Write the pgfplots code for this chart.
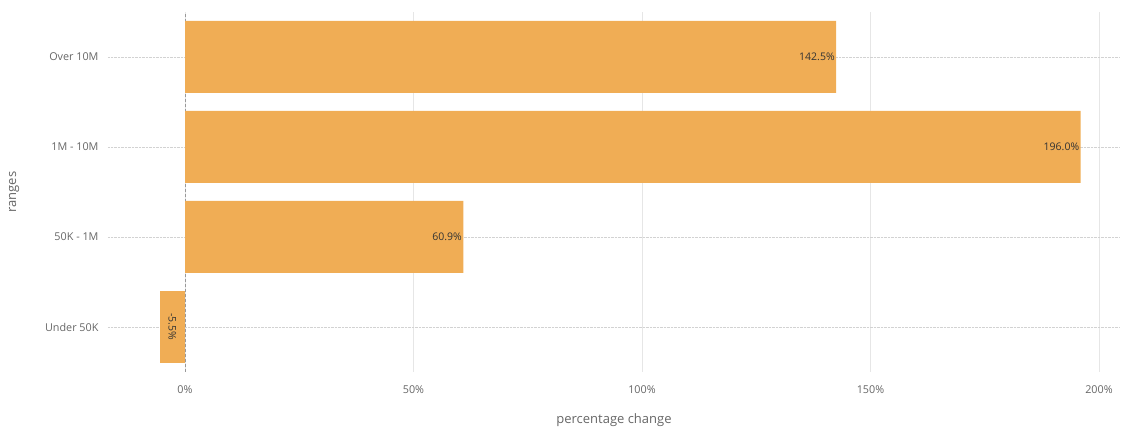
\documentclass[border=0pt]{standalone}
\usepackage{pgfplots}
\pgfplotsset{compat=1.18}
\usepackage{fontspec}
\setmainfont{Open Sans}
\definecolor{barc}{HTML}{F0AD55}
\definecolor{tickc}{HTML}{666666}
\definecolor{gridc}{HTML}{E6E6E6}
\definecolor{dotc}{HTML}{D2D2D2}
\definecolor{zeroc}{HTML}{999999}
\begin{document}
\begin{tikzpicture}[x=1pt,y=1pt]
\useasboundingbox (-108pt,-55pt) rectangle (1016pt,372pt);
\begin{axis}[
  at={(0,0)}, anchor=south west,
  scale only axis, width=1012pt, height=360pt,
  xmin=-16.85, xmax=204.6, ymin=-0.5, ymax=3.5,
  axis line style={draw=none},
  major tick length=0pt,
  /pgf/number format/assume math mode=true,
  xbar, bar width=72pt, bar shift=0pt,
  xtick={0,50,100,150,200},
  xticklabels={0\%,50\%,100\%,150\%,200\%},
  ytick={0,1,2,3},
  yticklabels={Under 50K,50K - 1M,1M - 10M,Over 10M},
  ticklabel style={font=\fontsize{10.8}{12}\selectfont, text=tickc},
  xticklabel style={yshift=-10pt},
  yticklabel style={xshift=-6pt},
  xmajorgrids, ymajorgrids,
  x grid style={gridc, line width=0.6pt},
  y grid style={dotc, densely dotted, line width=0.8pt},
  xlabel={percentage change},
  ylabel={ranges},
  label style={font=\fontsize{13}{15}\selectfont, text=tickc},
  xlabel style={yshift=-13pt},
  ylabel style={yshift=19pt},
  nodes near coords style={font=\fontsize{10.5}{12}\selectfont, text=black!80},
  clip=false,
]
\draw[zeroc, densely dashed, line width=0.8pt] (axis cs:0,-0.5) -- (axis cs:0,3.5);
\addplot[fill=barc, draw=none, nodes near coords={\pgfmathprintnumber[fixed,fixed zerofill,precision=1]{\pgfplotspointmeta}\%},
  nodes near coords style={anchor=east, xshift=2pt}] coordinates {(60.9,1) (196.0,2) (142.5,3)};
\addplot[fill=barc, draw=none, nodes near coords={\pgfmathprintnumber[fixed,fixed zerofill,precision=1]{\pgfplotspointmeta}\%},
  nodes near coords style={anchor=center, xshift=12.5pt, rotate=-90}] coordinates {(-5.5,0)};
\end{axis}
\end{tikzpicture}
\end{document}
